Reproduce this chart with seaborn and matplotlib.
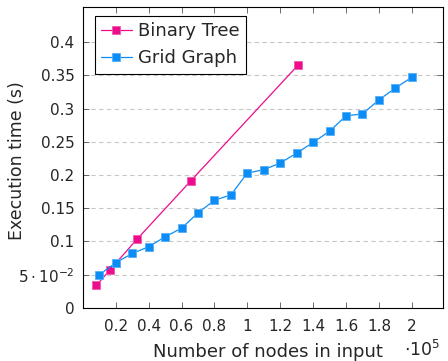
import matplotlib
matplotlib.use("Agg")
import matplotlib.pyplot as plt
import seaborn as sns
import pandas as pd

# Binary tree sizes (2^k - 1 nodes) and measured times
tree_nodes = [8191, 16383, 32767, 65535, 131071]
tree_time = [0.034, 0.057, 0.103, 0.191, 0.366]

# Grid graph sizes and measured times
grid_nodes = [10000, 20000, 30000, 40000, 50000, 60000, 70000, 80000, 90000, 100000,
              110000, 120000, 130000, 140000, 150000, 160000, 170000, 180000, 190000, 200000]
grid_time = [0.050, 0.068, 0.082, 0.092, 0.107, 0.120, 0.143, 0.162, 0.170, 0.203,
             0.208, 0.218, 0.233, 0.249, 0.266, 0.289, 0.292, 0.313, 0.331, 0.347]

x_ticks = [0.2, 0.4, 0.6, 0.8, 1.0, 1.2, 1.4, 1.6, 1.8, 2.0]
x_tick_labels = ["0.2", "0.4", "0.6", "0.8", "1", "1.2", "1.4", "1.6", "1.8", "2"]
y_ticks = [0, 0.05, 0.1, 0.15, 0.2, 0.25, 0.3, 0.35, 0.4]
y_tick_labels = ["0", r"$5\cdot10^{-2}$", "0.1", "0.15", "0.2", "0.25", "0.3", "0.35", "0.4"]

sns.set_theme(style="ticks")
plt.rcParams['font.family'] = ['DejaVu Sans']
plt.rcParams['mathtext.fontset'] = 'dejavusans'

tree = pd.DataFrame({"x": [n / 1e5 for n in tree_nodes], "t": tree_time})
grid = pd.DataFrame({"x": [n / 1e5 for n in grid_nodes], "t": grid_time})

fig = plt.figure(figsize=(4.48, 3.61), dpi=100)
ax = fig.add_axes([0.185, 0.147, 0.804, 0.834])

pink = "#EC0C8C"
blue = "#0C8CF5"
sns.lineplot(data=tree, x="x", y="t", ax=ax, color=pink, marker="s", markersize=6,
             markeredgecolor="#F25BAE", markeredgewidth=0.6, linewidth=0.9,
             label="Binary Tree")
sns.lineplot(data=grid, x="x", y="t", ax=ax, color=blue, marker="s", markersize=6,
             markeredgecolor="#55AEF8", markeredgewidth=0.6, linewidth=0.9,
             label="Grid Graph")

ax.set_xlim(0, 2.19)
ax.set_ylim(0, 0.453)
ax.set_xticks(x_ticks)
ax.set_xticklabels(x_tick_labels)
ax.set_yticks(y_ticks)
ax.set_yticklabels(y_tick_labels)
ax.tick_params(direction="in", top=True, right=True, length=4, width=0.6,
               color="#555555", labelsize=11)
ax.tick_params(axis="x", pad=8)
ax.tick_params(axis="y", pad=6)
ax.yaxis.grid(True, linestyle=(0, (4, 3)), color="#c8c8c8", linewidth=0.8)
ax.set_axisbelow(True)
for s in ax.spines.values():
    s.set_linewidth(0.8)
    s.set_color("black")

ax.set_xlabel("Number of nodes in input", fontsize=13)
ax.xaxis.set_label_coords(0.514, -0.115)
ax.set_ylabel("Execution time (s)", fontsize=12.5)
ax.yaxis.set_label_coords(-0.158, 0.49)
fig.text(0.984, 0.014, r"$\cdot10^{5}$", ha="right", va="baseline", fontsize=12.5)

leg = ax.legend(loc="upper left", frameon=True, fancybox=False, fontsize=13,
                borderpad=0.35, handlelength=1.7, handletextpad=0.35,
                labelspacing=0.5, borderaxespad=0, bbox_to_anchor=(0.033, 0.97))
leg.get_frame().set_edgecolor("black")
leg.get_frame().set_linewidth(0.8)
leg.get_frame().set_alpha(1)

fig.savefig("out.png", dpi=100)
